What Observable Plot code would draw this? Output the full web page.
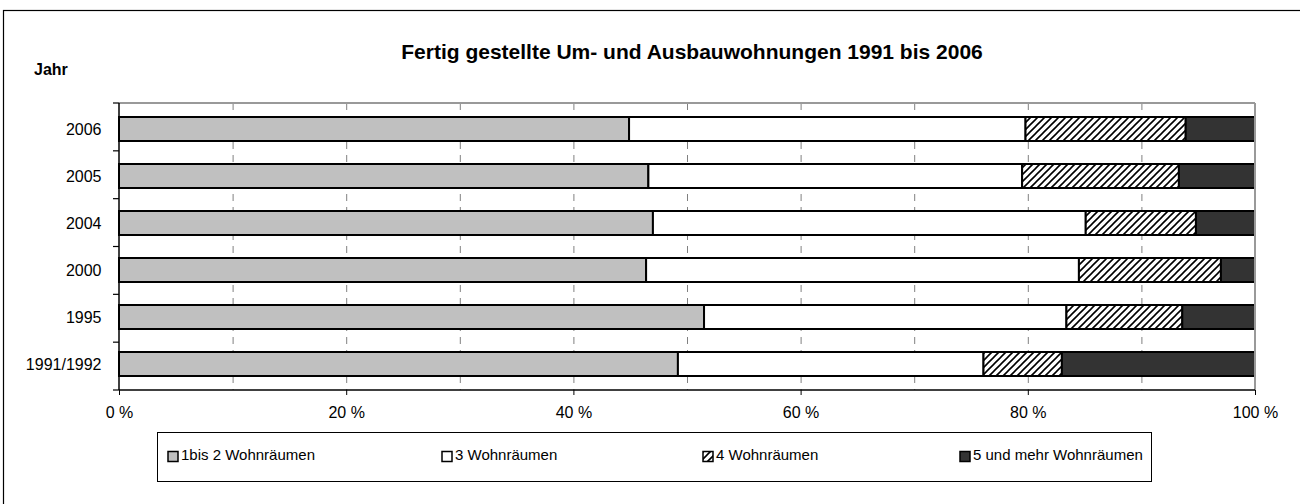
<!DOCTYPE html>
<html><head><meta charset="utf-8">
<script src="https://cdn.jsdelivr.net/npm/d3@7"></script>
<script src="https://cdn.jsdelivr.net/npm/@observablehq/plot@0.6"></script>
<style>
body{margin:0;background:#fff;}
svg{font-family:"Liberation Sans",Arial,sans-serif;}
</style>
</head><body><div id="chart"></div>
<script>
const years = ["2006","2005","2004","2000","1995","1991/1992"];
const series = ["1bis 2 Wohnräumen","3 Wohnräumen","4 Wohnräumen","5 und mehr Wohnräumen"];
const s1 = [44.9,46.6,47.0,46.4,51.5,49.2];
const s2 = [34.9,32.9,38.1,38.1,31.9,26.9];
const s3 = [14.1,13.8,9.7,12.5,10.2,6.9];
const s4 = [6.1,6.7,5.2,3.0,6.4,17.0];
const xTicks = [0,20,40,60,80,100];
const gridValues = [10,20,30,40,50,60,70,80,90];
const title = "Fertig gestellte Um- und Ausbauwohnungen 1991 bis 2006";
const yTitle = "Jahr";
const colors = ["#c0c0c0","#ffffff","url(#hatch)","#333333"];

const table = [];
[s1,s2,s3,s4].forEach((arr,si)=>arr.forEach((v,i)=>table.push({year:years[i], series:series[si], value:v})));

const W=1300,H=504, mT=103, mB=114, mL=119, mR=45;
const chart = Plot.plot({
  width:W, height:H, marginTop:mT, marginBottom:mB, marginLeft:mL, marginRight:mR,
  style:{fontFamily:"'Liberation Sans',Arial,sans-serif", fontSize:"16px", color:"#000", background:"#fff", overflow:"visible"},
  x:{domain:[0,100], label:null},
  y:{domain:years, paddingInner:0.5, paddingOuter:0.25, label:null},
  color:{domain:series, range:colors},
  marks:[
    Plot.ruleX(gridValues,{stroke:"#808080", strokeDasharray:"7,6", strokeWidth:1}),
    Plot.barX(table,{x:"value", y:"year", fill:"series", stroke:"#000", strokeWidth:2}),
    Plot.axisX({ticks:xTicks, tickFormat:d=>d+" %", tickSize:5, tickPadding:11, fontSize:16, label:null}),
    Plot.axisY({tickSize:0, tickPadding:18, fontSize:16, label:null})
  ]
});
document.getElementById("chart").appendChild(chart);

const svg = d3.select(chart);
const defs = svg.insert("defs",":first-child");
const pat = defs.append("pattern").attr("id","hatch").attr("patternUnits","userSpaceOnUse")
  .attr("width",7).attr("height",7);
pat.append("rect").attr("width",7).attr("height",7).attr("fill","#fff");
pat.append("path").attr("d","M0,7 L7,0 M-1,1 L1,-1 M6,8 L8,6").attr("stroke","#000").attr("stroke-width",1.6);

const xs = chart.scale("x");
const x0 = xs.apply(0), x1 = xs.apply(100);
const y0 = mT, y1 = H - mB;
const step = (y1 - y0) / years.length;

const g = svg.append("g").attr("text-anchor","start");
// outer frame
g.append("rect").attr("x",3.5).attr("y",10.5).attr("width",1400).attr("height",600)
  .attr("fill","none").attr("stroke","#000").attr("stroke-width",1.2);
// plot area borders
g.append("line").attr("x1",x0).attr("x2",x1).attr("y1",y0).attr("y2",y0).attr("stroke","#999").attr("stroke-width",2);
g.append("line").attr("x1",x1).attr("x2",x1).attr("y1",y0).attr("y2",y1).attr("stroke","#999").attr("stroke-width",2);
g.append("line").attr("x1",x0).attr("x2",x0).attr("y1",y0).attr("y2",y1).attr("stroke","#000").attr("stroke-width",1.5);
g.append("line").attr("x1",x0).attr("x2",x1).attr("y1",y1).attr("y2",y1).attr("stroke","#000").attr("stroke-width",1.5);
for (let i=0;i<=years.length;i++){
  const yy = y0 + i*step;
  g.append("line").attr("x1",x0-6).attr("x2",x0).attr("y1",yy).attr("y2",yy).attr("stroke","#000").attr("stroke-width",1.2);
}
// titles
g.append("text").attr("x",692).attr("y",53).attr("text-anchor","middle").attr("dominant-baseline","middle")
  .attr("font-weight","bold").attr("font-size",21).text(title);
g.append("text").attr("x",34).attr("y",71).attr("text-anchor","start").attr("dominant-baseline","middle")
  .attr("font-weight","bold").attr("font-size",16).text(yTitle);

// legend
const lg = {x:157, y:432, w:994, h:49};
g.append("rect").attr("x",lg.x+0.5).attr("y",lg.y+0.5).attr("width",lg.w).attr("height",lg.h)
  .attr("fill","#fff").attr("stroke","#000").attr("stroke-width",1);
const itemX = [168, 442, 703, 960];
series.forEach((s,i)=>{
  const cy = lg.y + lg.h/2;
  g.append("rect").attr("x",itemX[i]).attr("y",cy-5).attr("width",10).attr("height",10)
    .attr("fill",colors[i]).attr("stroke","#000").attr("stroke-width",1.5);
  g.append("text").attr("x",itemX[i]+13).attr("y",cy).attr("text-anchor","start").attr("dominant-baseline","middle")
    .attr("font-size",15).text(s);
});
</script>
</body></html>
